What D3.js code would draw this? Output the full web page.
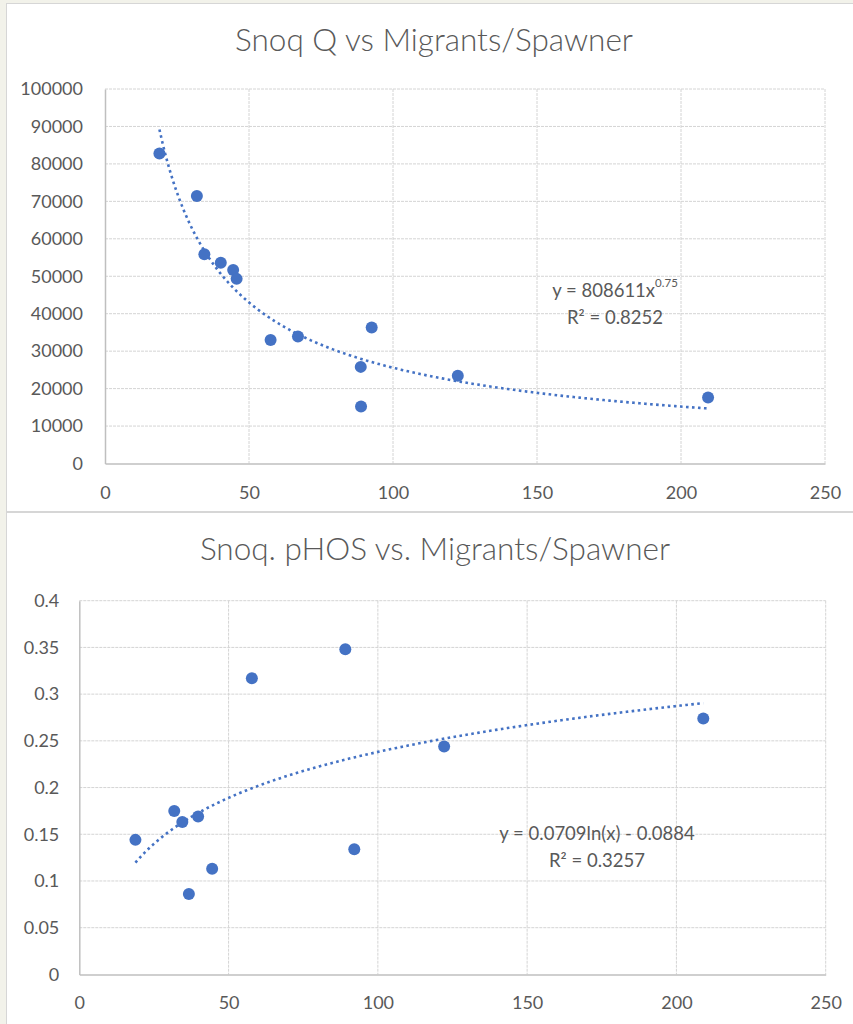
<!DOCTYPE html>
<html>
<head>
<meta charset="utf-8">
<script src="https://cdn.jsdelivr.net/npm/d3@7"></script>
<style>
  html, body { margin: 0; padding: 0; background: #ffffff; }
  svg { display: block; }
  text { font-family: Lato, "Open Sans", "Liberation Sans", sans-serif; }
</style>
</head>
<body>
<svg id="chart" width="853" height="1024"></svg>
<script>
// ---------- data ----------
const xTicks = [0, 50, 100, 150, 200, 250];

const qTitle = "Snoq Q vs Migrants/Spawner";
const qMigrants = [18.9, 31.9, 34.5, 40.2, 44.5, 45.7, 57.5, 67.0, 88.8, 88.9, 92.6, 122.5, 209.4];
const qFlow = [82800, 71400, 55900, 53600, 51700, 49300, 33000, 33900, 25800, 15200, 36300, 23400, 17600];
const qYTicks = [0, 10000, 20000, 30000, 40000, 50000, 60000, 70000, 80000, 90000, 100000];
const qTrendCoef = [808611, -0.75];           // y = a * x^b
const qEqMain = "y = 808611x";
const qEqSup = "0.75";
const qR2 = "R² = 0.8252";

const pTitle = "Snoq. pHOS vs. Migrants/Spawner";
const pMigrants = [18.8, 31.8, 34.5, 36.7, 39.8, 44.5, 57.8, 89.1, 92.1, 122.2, 209.0];
const pHOS = [0.144, 0.175, 0.163, 0.086, 0.169, 0.113, 0.317, 0.348, 0.134, 0.244, 0.274];
const pYTicks = [0, 0.05, 0.1, 0.15, 0.2, 0.25, 0.3, 0.35, 0.4];
const pTrendCoef = [0.0709, -0.0884];         // y = a * ln(x) + b
const pEq = "y = 0.0709ln(x) - 0.0884";
const pR2 = "R² = 0.3257";

// ---------- styles ----------
const BLUE = "#4472C4";
const TXT = "#595959";
const GRID = "#d4d4d4";
const AXIS = "#bfbfbf";

const svg = d3.select("#chart");

// sheet background + chart panels
svg.append("rect").attr("x", 0).attr("y", 0).attr("width", 853).attr("height", 1024).attr("fill", "#f2f2ea");
svg.append("rect").attr("x", 6.5).attr("y", 3.5).attr("width", 860).attr("height", 508)
  .attr("fill", "#fff").attr("stroke", "#d6d6d6");
svg.append("rect").attr("x", 6.5).attr("y", 512.5).attr("width", 860).attr("height", 520)
  .attr("fill", "#fff").attr("stroke", "#d6d6d6");

function drawChart(cfg) {
  const g = svg.append("g");
  const x = d3.scaleLinear().domain([0, 250]).range([cfg.left, cfg.right]);
  const y = d3.scaleLinear().domain([0, cfg.yMax]).range([cfg.bottom, cfg.top]);

  // title
  g.append("text").attr("x", cfg.titleX).attr("y", cfg.titleY)
    .attr("text-anchor", "middle").attr("fill", TXT)
    .attr("font-size", cfg.titleSize).attr("font-weight", 300)
    .text(cfg.title);

  // gridlines
  g.append("g").selectAll("line").data(cfg.yTicks.filter(d => d > 0)).join("line")
    .attr("x1", cfg.left).attr("x2", cfg.right)
    .attr("y1", d => y(d)).attr("y2", d => y(d))
    .attr("stroke", GRID).attr("stroke-width", 1).attr("stroke-dasharray", "3,1");
  g.append("g").selectAll("line").data(xTicks.filter(d => d > 0)).join("line")
    .attr("x1", d => x(d)).attr("x2", d => x(d))
    .attr("y1", cfg.top).attr("y2", cfg.bottom)
    .attr("stroke", GRID).attr("stroke-width", 1).attr("stroke-dasharray", "3,1");

  // axes
  const xAxis = d3.axisBottom(x).tickValues(xTicks).tickSize(0).tickPadding(cfg.xPad).tickFormat(d3.format("d"));
  const yAxis = d3.axisLeft(y).tickValues(cfg.yTicks).tickSize(0).tickPadding(cfg.yPad).tickFormat(cfg.yFmt);
  const gx = g.append("g").attr("transform", `translate(0,${cfg.bottom})`).call(xAxis);
  const gy = g.append("g").attr("transform", `translate(${cfg.left},0)`).call(yAxis);
  [gx, gy].forEach(a => {
    a.select(".domain").attr("stroke", AXIS).attr("stroke-width", 1.5);
    a.selectAll("text").attr("fill", TXT).attr("font-size", 18)
      .attr("font-family", 'Lato, "Open Sans", sans-serif');
  });

  // trendline
  const xs = d3.extent(cfg.xs);
  const samples = d3.range(0, 201).map(i => xs[0] + (xs[1] - xs[0]) * i / 200);
  const line = d3.line().x(d => x(d)).y(d => y(cfg.trend(d)));
  g.append("path").datum(samples).attr("d", line)
    .attr("fill", "none").attr("stroke", BLUE).attr("stroke-width", 2.6)
    .attr("stroke-dasharray", "2.6,3.4");

  // points
  g.append("g").selectAll("circle").data(cfg.xs.map((v, i) => [v, cfg.ys[i]])).join("circle")
    .attr("cx", d => x(d[0])).attr("cy", d => y(d[1])).attr("r", 6).attr("fill", BLUE);

  // equation
  const eq = g.append("text").attr("x", cfg.eqX).attr("y", cfg.eqY)
    .attr("text-anchor", "middle").attr("fill", TXT).attr("font-size", 18.5);
  eq.append("tspan").text(cfg.eqMain);
  if (cfg.eqSup) {
    eq.append("tspan").attr("font-size", 11.5).attr("dy", -10).text(cfg.eqSup);
  }
  g.append("text").attr("x", cfg.eqX).attr("y", cfg.eqY + 27)
    .attr("text-anchor", "middle").attr("fill", TXT).attr("font-size", 18.5)
    .text(cfg.r2);
}

drawChart({
  title: qTitle, titleX: 434, titleY: 51, titleSize: 31.5,
  left: 105, right: 825, top: 89, bottom: 463.5, yMax: 100000,
  yTicks: qYTicks, yFmt: d3.format("d"), xPad: 23, yPad: 22,
  xs: qMigrants, ys: qFlow,
  trend: v => qTrendCoef[0] * Math.pow(v, qTrendCoef[1]),
  eqX: 615, eqY: 297, eqMain: qEqMain, eqSup: qEqSup, r2: qR2
});

drawChart({
  title: pTitle, titleX: 435, titleY: 560, titleSize: 31.5,
  left: 79.3, right: 825.7, top: 600.7, bottom: 974.4, yMax: 0.4,
  yTicks: pYTicks, yFmt: d => String(+d.toFixed(2)), xPad: 22, yPad: 20,
  xs: pMigrants, ys: pHOS,
  trend: v => pTrendCoef[0] * Math.log(v) + pTrendCoef[1],
  eqX: 597, eqY: 840, eqMain: pEq, eqSup: null, r2: pR2
});
</script>
</body>
</html>
